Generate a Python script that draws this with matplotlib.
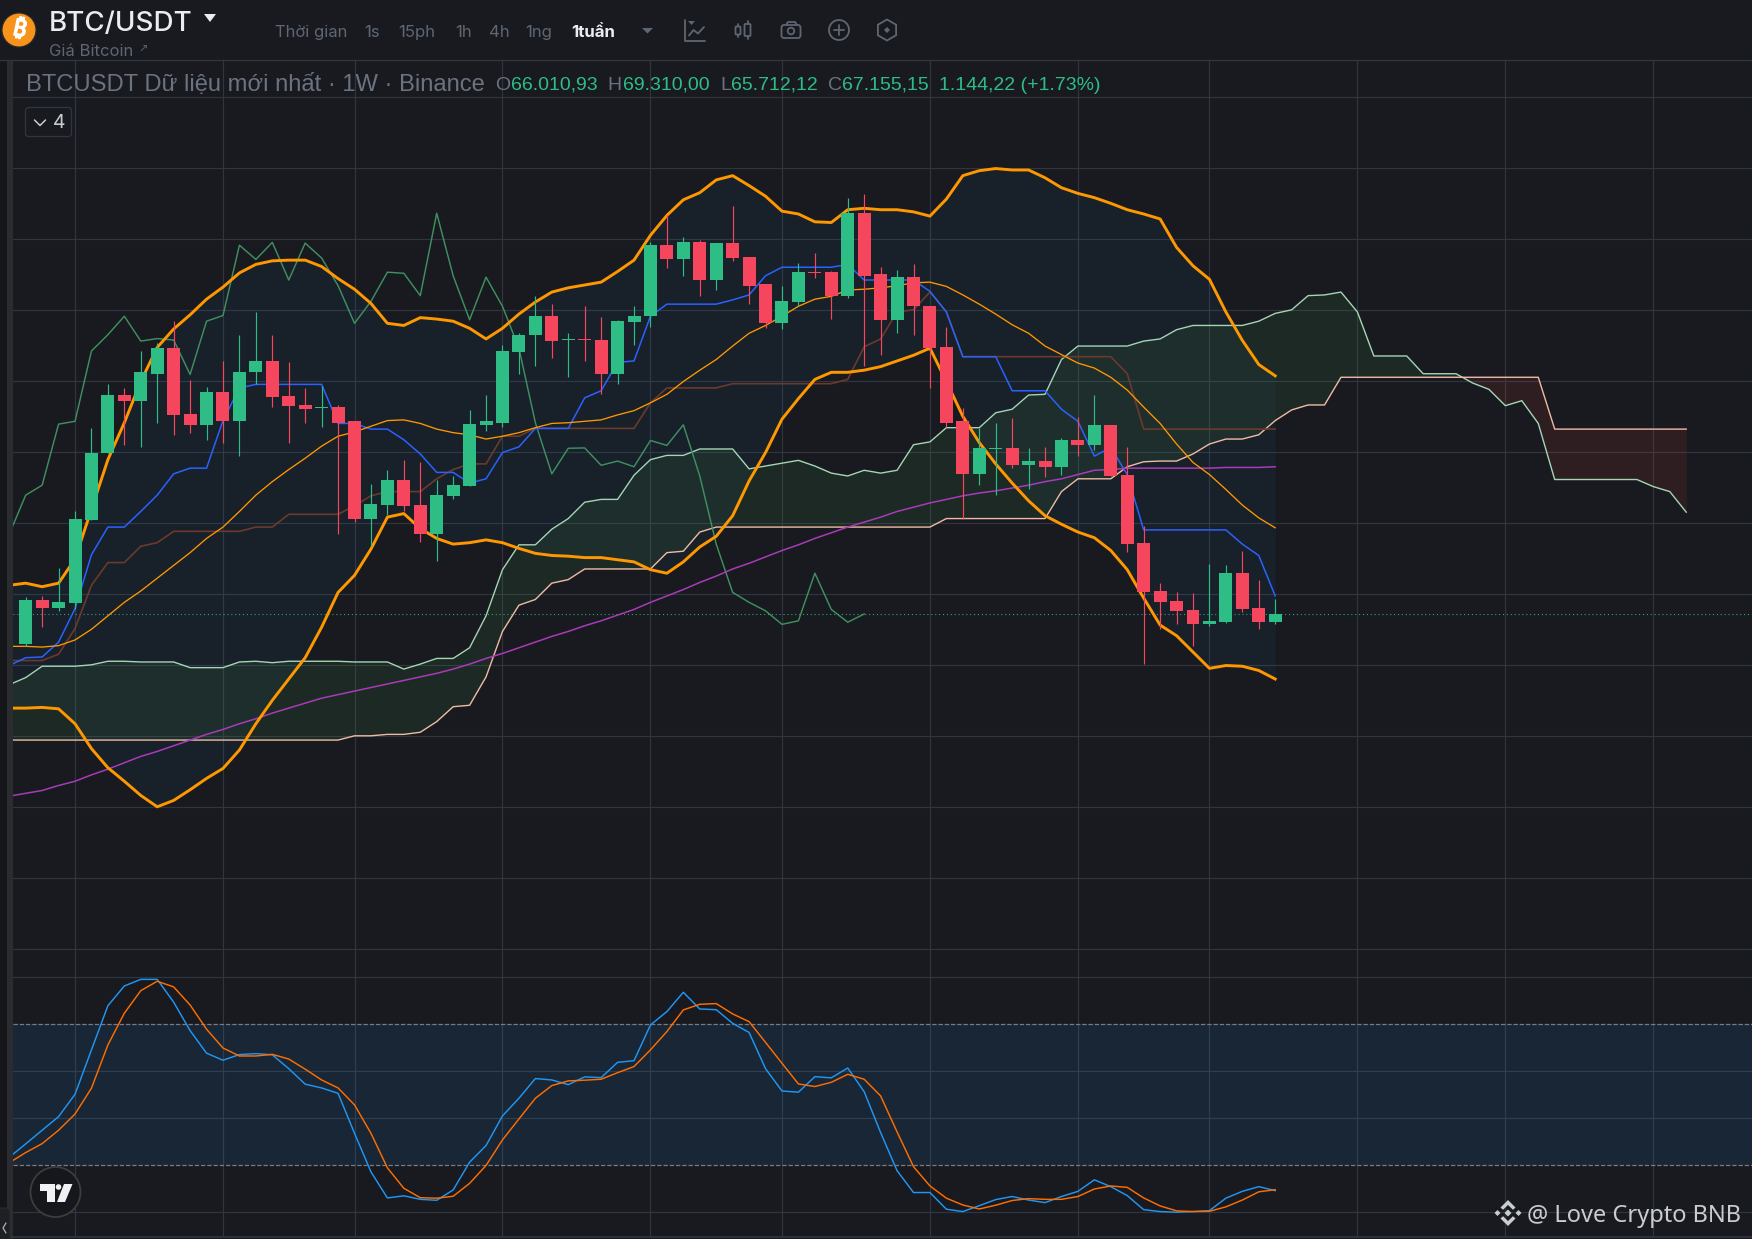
"""BTC/USDT weekly chart: candles, Bollinger, Ichimoku, MA200 and Stoch RSI."""

import numpy as np
import matplotlib
matplotlib.use("Agg")
import matplotlib.pyplot as plt
import matplotlib.patheffects as pe
from matplotlib.patches import Circle, FancyBboxPatch, Polygon, RegularPolygon

# Prices are in thousands of USDT
opens = [63.0, 69.1, 68.0, 68.7, 80.4, 89.8, 98.0, 97.1, 101.0, 104.6, 95.3, 93.8, 98.4, 94.4, 101.2, 102.8, 97.8, 96.6, 96.15, 96.3,
         94.3, 80.6, 82.5, 86.1, 82.5, 78.4, 83.8, 85.2, 93.8, 94.1, 104.0, 106.4, 109.1, 105.8, 105.9, 105.7, 100.9, 108.3, 109.1, 119.1,
         117.1, 119.5, 114.2, 119.4, 117.4, 113.6, 108.1, 111.1, 115.3, 115.3, 112.0, 123.6, 115.0, 108.6, 114.6, 110.6, 104.7, 94.3, 86.9, 90.4,
         90.5, 88.1, 88.7, 87.9, 91.6, 90.9, 93.8, 86.7, 77.1, 70.4, 69.0, 67.7, 65.7, 66.0, 72.9, 68.0, 66.01]
highs = [69.5, 69.7, 73.7, 81.6, 93.4, 99.6, 99.0, 104.2, 105.3, 108.4, 100.1, 99.2, 102.8, 106.5, 109.7, 106.5, 102.6, 99.0, 99.3, 96.6,
         94.3, 85.5, 87.5, 88.8, 88.5, 86.1, 86.6, 95.9, 98.0, 105.0, 106.7, 112.0, 110.8, 106.8, 110.6, 109.0, 108.5, 110.6, 119.6, 123.3,
         120.3, 119.8, 119.4, 124.6, 117.5, 113.6, 113.4, 116.6, 118.0, 115.5, 125.7, 126.3, 116.0, 115.6, 116.4, 110.6, 107.6, 96.2, 93.4, 94.1,
         94.8, 90.5, 90.7, 92.0, 94.9, 98.0, 93.8, 90.7, 79.5, 71.5, 70.2, 70.1, 74.2, 74.0, 76.1, 72.0, 69.31]
lows = [62.7, 65.3, 67.6, 67.9, 80.4, 89.8, 90.9, 90.7, 94.1, 92.4, 92.6, 91.6, 91.3, 89.4, 99.6, 96.3, 91.3, 94.1, 93.5, 78.4,
        80.1, 76.7, 81.1, 81.6, 77.3, 74.6, 83.3, 85.2, 92.9, 93.5, 100.9, 102.1, 103.2, 100.5, 102.8, 98.2, 99.6, 105.1, 107.6, 115.9,
        114.7, 112.0, 112.8, 116.9, 110.8, 107.4, 107.3, 110.6, 114.5, 108.7, 111.6, 102.1, 103.6, 106.7, 106.4, 99.0, 93.5, 80.6, 85.3, 83.9,
        87.7, 84.7, 86.5, 86.8, 89.4, 90.2, 86.6, 75.9, 60.1, 65.1, 65.7, 62.6, 65.4, 65.9, 67.4, 65.1, 65.71]
closes = [69.1, 68.0, 68.8, 80.5, 89.9, 98.0, 97.1, 101.2, 104.6, 95.2, 93.8, 98.4, 94.4, 101.3, 102.8, 97.7, 96.4, 96.0, 96.3, 94.1,
          80.6, 82.6, 86.1, 82.4, 78.4, 83.9, 85.3, 93.9, 94.3, 104.2, 106.5, 109.1, 105.6, 105.95, 105.75, 100.9, 108.4, 109.2, 119.1, 117.1,
          119.5, 114.2, 119.4, 117.3, 113.4, 108.1, 111.2, 115.3, 115.15, 112.0, 123.6, 114.8, 108.6, 114.6, 110.5, 104.6, 94.1, 86.9, 90.5, 90.55,
          88.1, 88.7, 87.9, 91.6, 90.9, 93.8, 86.6, 77.0, 70.2, 68.8, 67.6, 65.7, 66.2, 72.9, 67.8, 66.0, 67.16]
last_close = 67.155

# All indicator series start one week before the first complete candle
bb_upper = [71.2, 71.5, 71.0, 71.5, 74.9, 81.9, 88.9, 94.1, 99.9, 104.7, 107.3, 109.3, 111.5, 113.2, 115.2, 116.4, 116.9, 117.0, 117.0, 116.1,
            114.4, 112.9, 110.9, 108.1, 107.8, 108.9, 108.7, 108.4, 107.4, 105.9, 107.4, 109.4, 111.1, 112.5, 113.1, 113.5, 113.9, 115.4, 117.0, 120.5,
            123.3, 125.5, 126.5, 128.3, 128.9, 127.5, 126.0, 123.9, 123.5, 122.4, 122.3, 124.1, 124.3, 124.1, 124.1, 123.8, 123.2, 125.6, 128.9, 129.6,
            129.9, 129.7, 129.7, 128.6, 127.2, 126.4, 125.8, 125.0, 124.1, 123.5, 122.8, 118.8, 116.2, 114.3, 109.7, 105.7, 102.3, 100.7]
bb_lower = [53.9, 53.9, 54.0, 53.8, 51.7, 48.2, 45.5, 43.6, 41.6, 40.0, 40.9, 42.4, 44.0, 45.4, 48.0, 51.7, 55.0, 58.0, 61.0, 65.3,
            70.2, 72.6, 76.3, 80.8, 81.3, 79.2, 77.8, 77.0, 77.2, 77.6, 77.2, 76.4, 75.7, 75.4, 75.3, 75.1, 75.1, 74.8, 74.5, 73.4,
            72.9, 74.5, 76.6, 78.1, 81.0, 85.9, 89.9, 94.6, 97.5, 100.2, 101.2, 101.2, 101.5, 102.0, 102.8, 103.6, 104.6, 99.9, 95.0, 91.3,
            88.3, 85.6, 83.1, 81.0, 79.8, 78.7, 77.9, 76.1, 73.4, 69.4, 65.6, 64.1, 61.8, 59.5, 59.9, 59.8, 59.2, 58.0]
bb_basis = [62.6, 62.6, 62.5, 62.7, 63.5, 65.0, 66.9, 68.8, 70.4, 72.2, 74.0, 75.8, 77.8, 79.4, 81.6, 83.9, 85.8, 87.5, 89.1, 90.8,
            92.2, 92.8, 93.6, 94.4, 94.5, 94.0, 93.2, 92.7, 92.4, 91.8, 92.2, 92.7, 93.4, 94.0, 94.1, 94.3, 94.5, 95.2, 95.8, 96.9,
            98.1, 99.9, 101.5, 103.0, 104.9, 106.7, 107.8, 109.1, 110.5, 111.5, 111.9, 112.8, 112.9, 113.1, 113.4, 113.8, 113.9, 113.3, 112.1, 110.8,
            109.4, 107.9, 106.7, 104.9, 103.7, 102.5, 101.8, 100.5, 98.7, 96.3, 94.0, 91.1, 88.5, 86.8, 84.7, 82.5, 80.7, 79.3]
tenkan = [59.9, 61.0, 61.1, 63.2, 67.9, 75.5, 79.4, 79.4, 81.6, 83.9, 86.9, 87.7, 87.7, 94.4, 99.0, 99.5, 99.5, 99.5, 99.5, 99.5,
          94.0, 94.0, 93.2, 93.2, 91.7, 89.7, 87.1, 87.1, 85.6, 86.2, 89.9, 90.7, 93.3, 93.3, 93.3, 97.6, 98.6, 102.6, 102.8, 109.1,
          110.8, 110.8, 110.8, 110.8, 111.4, 112.1, 114.8, 116.0, 116.0, 116.0, 116.0, 116.4, 114.2, 114.2, 114.2, 114.2, 112.6, 109.7, 103.4, 103.4,
          103.4, 98.6, 98.6, 98.6, 96.0, 94.3, 89.4, 90.6, 86.8, 79.0, 79.0, 79.0, 79.0, 79.0, 79.0, 77.0, 75.4, 69.7]
kijun = [60.6, 60.6, 60.6, 61.5, 65.1, 71.2, 74.4, 74.4, 76.7, 77.2, 78.8, 78.8, 78.8, 78.8, 78.8, 79.4, 79.4, 81.2, 81.2, 81.2,
         81.2, 82.4, 83.8, 84.4, 84.4, 84.4, 86.2, 87.5, 88.3, 88.3, 92.2, 92.2, 93.3, 93.3, 93.3, 93.3, 93.3, 93.3, 93.3, 96.9,
         99.0, 99.0, 99.0, 99.0, 99.6, 99.6, 99.6, 99.6, 99.6, 99.6, 99.6, 100.2, 104.8, 105.9, 109.7, 110.0, 112.5, 109.7, 103.4, 103.4,
         103.4, 103.4, 103.4, 103.4, 103.4, 103.4, 103.4, 103.4, 101.0, 93.2, 93.2, 93.2, 93.2, 93.2, 93.2, 93.2, 93.2, 93.2]
lagging = [78.4, 83.9, 85.3, 93.9, 94.3, 104.2, 106.5, 109.1, 105.6, 105.95, 105.75, 100.9, 108.4, 109.2, 119.1, 117.1, 119.5, 114.2, 119.4, 117.3,
           113.4, 108.1, 111.2, 115.3, 115.15, 112.0, 123.6, 114.8, 108.6, 114.6, 110.5, 104.6, 94.1, 86.9, 90.5, 90.55, 88.1, 88.7, 87.9, 91.6,
           90.9, 93.8, 86.6, 77.0, 70.2, 68.8, 67.6, 65.7, 66.2, 72.9, 67.8, 66.0, 67.16]
senkou_a = [57.2, 58.2, 59.8, 59.8, 59.8, 60.0, 60.5, 60.5, 60.4, 60.4, 60.4, 59.6, 59.6, 59.6, 60.4, 60.5, 60.3, 60.5, 60.5, 60.5,
            60.5, 60.4, 60.4, 60.4, 59.4, 60.1, 60.9, 60.9, 62.4, 66.9, 73.4, 76.9, 76.9, 79.1, 80.6, 82.9, 83.3, 83.3, 86.7, 88.9,
            89.5, 89.5, 90.4, 90.4, 90.4, 87.6, 88.0, 88.4, 88.8, 88.0, 87.0, 86.6, 87.4, 87.0, 87.4, 91.0, 91.4, 93.4, 93.4, 93.4,
            95.5, 96.0, 98.0, 98.1, 103.0, 104.9, 104.9, 104.9, 104.9, 105.6, 105.9, 107.2, 107.8, 107.8, 107.8, 107.8, 108.4, 109.5, 110.0, 112.0,
            112.1, 112.5, 109.7, 103.5, 103.5, 103.5, 101.0, 101.0, 101.0, 99.7, 98.8, 96.5, 97.2, 94.0, 86.1, 86.1, 86.1, 86.1, 86.1, 86.1,
            85.1, 84.4, 81.5]
senkou_b = [49.4, 49.4, 49.4, 49.4, 49.4, 49.4, 49.4, 49.4, 49.4, 49.4, 49.4, 49.4, 49.4, 49.4, 49.4, 49.4, 49.4, 49.4, 49.4, 49.4,
            49.4, 50.0, 50.0, 50.2, 50.2, 50.5, 52.0, 54.1, 54.3, 58.3, 64.7, 68.4, 69.2, 71.5, 72.0, 73.5, 73.5, 73.5, 73.5, 73.5,
            75.8, 76.0, 78.7, 79.4, 79.4, 79.4, 79.4, 79.4, 79.4, 79.4, 79.4, 79.4, 79.4, 79.4, 79.4, 79.4, 79.4, 80.6, 80.6, 80.6,
            80.6, 80.6, 80.6, 80.6, 84.4, 86.2, 86.2, 86.2, 87.9, 88.6, 88.7, 88.7, 89.7, 91.1, 91.8, 91.8, 92.4, 94.4, 95.9, 96.6,
            96.6, 100.5, 100.5, 100.5, 100.5, 100.5, 100.5, 100.5, 100.5, 100.5, 100.5, 100.5, 100.5, 100.5, 93.2, 93.2, 93.2, 93.2, 93.2, 93.2,
            93.2, 93.2, 93.2]
ma200 = [41.5, 41.9, 42.3, 43.0, 43.6, 44.5, 45.3, 46.2, 47.1, 47.8, 48.6, 49.4, 50.2, 50.9, 51.7, 52.4, 53.2, 53.9, 54.6, 55.3,
         55.8, 56.3, 56.8, 57.3, 57.8, 58.3, 58.8, 59.4, 60.1, 60.9, 61.6, 62.4, 63.2, 64.0, 64.7, 65.5, 66.2, 67.0, 67.8, 68.8,
         69.7, 70.6, 71.6, 72.5, 73.5, 74.3, 75.2, 76.1, 76.9, 77.8, 78.6, 79.4, 80.1, 80.8, 81.6, 82.2, 82.8, 83.3, 83.8, 84.2,
         84.5, 84.9, 85.3, 85.8, 86.2, 86.8, 87.4, 87.5, 87.7, 87.7, 87.7, 87.7, 87.7, 87.7, 87.8, 87.8, 87.8, 87.9]
stoch_k = [23.4, 29.1, 34.9, 40.7, 50.2, 69.1, 87.9, 96.3, 99.1, 99.1, 89.4, 77.3, 67.7, 64.7, 67.1, 67.5, 67.0, 61.1, 54.5, 52.9,
           50.6, 33.6, 17.2, 6.1, 7.0, 5.5, 5.1, 9.5, 21.3, 28.4, 41.0, 48.5, 56.9, 56.3, 54.3, 57.6, 57.3, 63.8, 64.5, 79.7,
           85.4, 93.6, 86.5, 86.2, 80.4, 76.5, 61.1, 51.6, 51.1, 57.7, 57.2, 61.4, 51.3, 33.9, 17.7, 8.4, 8.4, 1.3, 0.3, 2.8,
           5.4, 6.7, 5.2, 4.1, 6.7, 8.9, 13.8, 10.9, 7.1, 1.1, 0.3, 0.0, 0.3, 0.7, 6.0, 8.9, 10.9, 9.2]
stoch_d = [21.1, 25.4, 29.2, 34.9, 41.8, 52.8, 71.2, 84.7, 94.3, 98.3, 95.9, 88.2, 77.9, 69.9, 66.5, 66.5, 67.2, 65.2, 60.9, 56.3,
           52.9, 45.7, 33.6, 18.9, 10.2, 6.2, 6.0, 6.8, 12.3, 19.9, 30.8, 39.7, 48.5, 53.9, 55.9, 56.2, 56.6, 59.4, 62.0, 69.1,
           76.9, 86.1, 88.5, 88.8, 84.4, 81.1, 72.3, 63.4, 54.6, 53.5, 55.3, 58.7, 56.6, 49.5, 34.2, 19.4, 11.2, 6.0, 3.1, 1.4,
           3.0, 5.0, 5.8, 5.5, 5.5, 6.7, 9.9, 11.2, 10.6, 6.1, 2.7, 0.6, 0.3, 0.4, 2.3, 5.2, 8.7, 9.6]

month_ticks = [3, 12, 20, 29, 38, 46, 55, 64, 72, 81, 90, 99]
price_levels = np.arange(20, 150, 10)
stoch_levels = [0, 40, 60, 100]
stoch_bands = [20, 80]

BG = "#181a20"
GRID = "#2f3640"
GREEN = "#2ebd85"
RED = "#f6465d"
MUTED = "#5e6673"
UP_FONT = "Inter"
LEGEND_FONT = "Liberation Sans"

W, H = 1752, 1239


def add_axes_px(fig, left, top, right, bottom):
    ax = fig.add_axes([left / W, 1 - bottom / H, (right - left) / W, (bottom - top) / H])
    ax.set_facecolor(BG)
    for spine in ax.spines.values():
        spine.set_visible(False)
    ax.tick_params(length=0, labelbottom=False, labelleft=False)
    return ax


def draw_grid(ax, levels):
    ax.set_xticks(month_ticks)
    ax.set_yticks(levels)
    ax.grid(True, color=GRID, linewidth=0.85, zorder=0)
    ax.set_axisbelow(True)


def draw_candles(ax):
    x = np.arange(len(closes))
    o, c = np.array(opens), np.array(closes)
    colors = [GREEN if cl >= op else RED for op, cl in zip(o, c)]
    ax.vlines(x, lows, highs, colors=colors, linewidth=0.85, zorder=6)
    ax.bar(x, np.abs(c - o), bottom=np.minimum(o, c), width=0.79, color=colors, linewidth=0, zorder=7)


def series_x(values):
    return np.arange(len(values)) - 1


def draw_main(ax):
    draw_grid(ax, price_levels)
    ax.fill_between(series_x(bb_upper), bb_lower, bb_upper, color="#2196f3", alpha=0.05, linewidth=0, zorder=1)
    xs = series_x(senkou_a)
    a, b = np.array(senkou_a), np.array(senkou_b)
    ax.fill_between(xs, a, b, where=a >= b, interpolate=True, color="#4caf50", alpha=0.10, linewidth=0, zorder=1)
    ax.fill_between(xs, a, b, where=a <= b, interpolate=True, color="#f44336", alpha=0.10, linewidth=0, zorder=1)
    ax.axhline(last_close, color=GREEN, linewidth=0.8, linestyle=(0, (1, 2.5)), alpha=0.85, zorder=2)

    ax.plot(series_x(senkou_a), senkou_a, color="#a5d6b4", linewidth=1.0, zorder=3)
    ax.plot(series_x(senkou_b), senkou_b, color="#efbba4", linewidth=1.0, zorder=3)
    ax.plot(series_x(lagging), lagging, color="#3f8f60", linewidth=1.05, zorder=3)
    ax.plot(series_x(kijun), kijun, color="#6b3a2a", linewidth=1.2, zorder=3)
    ax.plot(series_x(tenkan), tenkan, color="#2962ff", linewidth=1.1, zorder=3)
    ax.plot(series_x(ma200), ma200, color="#a83bb8", linewidth=1.1, zorder=3)
    ax.plot(series_x(bb_basis), bb_basis, color="#ff9800", linewidth=0.95, zorder=4)
    ax.plot(series_x(bb_upper), bb_upper, color="#ff9800", linewidth=2.1, zorder=5)
    ax.plot(series_x(bb_lower), bb_lower, color="#ff9800", linewidth=2.1, zorder=5)
    draw_candles(ax)


def draw_stoch(ax):
    draw_grid(ax, stoch_levels)
    ax.axhspan(stoch_bands[0], stoch_bands[1], color="#2196f3", alpha=0.10, linewidth=0, zorder=1)
    for level in stoch_bands:
        ax.axhline(level, color="#787b86", linewidth=0.9, linestyle=(0, (3.5, 1.5)), zorder=2)
    ax.plot(series_x(stoch_k), stoch_k, color="#2196f3", linewidth=1.05, zorder=3)
    ax.plot(series_x(stoch_d), stoch_d, color="#ff6d00", linewidth=1.05, zorder=4)


def polyline(ui, pts, color=MUTED, lw=1.3, zorder=5):
    xs, ys = zip(*pts)
    ui.plot(xs, ys, color=color, linewidth=lw, solid_capstyle="round", solid_joinstyle="round", zorder=zorder)


def draw_toolbar_icons(ui):
    # indicator chart icon
    polyline(ui, [(685, 20), (685, 40.5), (705, 40.5)])
    polyline(ui, [(689, 35.5), (693.5, 30), (698, 33.5), (704, 27)])
    ui.add_patch(Polygon([(688, 21), (695, 21), (691.5, 25)], color=MUTED, linewidth=0, zorder=5))
    # candle style icon
    polyline(ui, [(738, 23.5), (738, 37)], zorder=4)
    ui.add_patch(FancyBboxPatch((735.5, 26.5), 5, 8, boxstyle="round,pad=0,rounding_size=1", fc=BG, ec=MUTED, lw=1.3, zorder=5))
    polyline(ui, [(747.5, 20.5), (747.5, 39)], zorder=4)
    ui.add_patch(FancyBboxPatch((744.5, 24), 6, 12, boxstyle="round,pad=0,rounding_size=1", fc=BG, ec=MUTED, lw=1.3, zorder=5))
    # camera
    ui.add_patch(Polygon([(786, 25), (788, 22), (795, 22), (797, 25)], closed=False, fill=False, ec=MUTED, lw=1.3, zorder=5))
    ui.add_patch(FancyBboxPatch((781.5, 25), 19, 13, boxstyle="round,pad=0,rounding_size=2.5", fc="none", ec=MUTED, lw=1.3, zorder=5))
    ui.add_patch(Circle((791, 31), 3.3, fc="none", ec=MUTED, lw=1.3, zorder=5))
    # plus in a circle
    ui.add_patch(Circle((839, 30), 10, fc="none", ec=MUTED, lw=1.3, zorder=5))
    polyline(ui, [(834, 30), (844, 30)])
    polyline(ui, [(839, 25), (839, 35)])
    # hexagon with a dot
    ui.add_patch(RegularPolygon((887, 30), 6, radius=10.5, fc="none", ec=MUTED, lw=1.3, zorder=5))
    ui.add_patch(RegularPolygon((887, 30), 4, radius=3, fc=MUTED, ec="none", zorder=5))


def draw_tv_logo(ui):
    ui.add_patch(Circle((55.5, 1192), 25, fc="#15171c", ec="#3f3c3c", lw=1.3, zorder=8))
    ui.add_patch(Polygon([(40, 1184), (55, 1184), (55, 1202), (47, 1202), (47, 1191), (40, 1191)], fc="#f0f1f2", ec="none", zorder=9))
    ui.add_patch(Circle((58.5, 1187), 2.8, fc="#f0f1f2", ec="none", zorder=9))
    ui.add_patch(Polygon([(64, 1184), (72.5, 1184), (65, 1202), (57, 1202)], fc="#f0f1f2", ec="none", zorder=9))


def draw_binance_logo(ui, cx, cy):
    color = "#c9cdcd"
    for dx in (-10.5, 10.5):
        ui.add_patch(Polygon([(cx + dx - 3, cy), (cx + dx, cy - 3), (cx + dx + 3, cy), (cx + dx, cy + 3)], fc=color, ec="none", zorder=9))
    ui.add_patch(Polygon([(cx - 3.5, cy), (cx, cy - 3.5), (cx + 3.5, cy), (cx, cy + 3.5)], fc=color, ec="none", zorder=9))
    for sign in (-1, 1):
        ui.add_patch(Polygon([
            (cx, cy + sign * 13), (cx + 7.5, cy + sign * 5.5), (cx + 5, cy + sign * 3.2), (cx, cy + sign * 8),
            (cx - 5, cy + sign * 3.2), (cx - 7.5, cy + sign * 5.5)], fc=color, ec="none", zorder=9))


def draw_ui(fig):
    ui = fig.add_axes([0, 0, 1, 1], facecolor="none")
    ui.set_xlim(0, W)
    ui.set_ylim(H, 0)
    ui.axis("off")

    # header bar and left strip
    ui.fill_between([0, W], 0, 59, color=BG, linewidth=0, zorder=1)
    ui.plot([0, W], [59.5, 59.5], color="#2f3640", linewidth=0.9, zorder=2)
    ui.fill_between([0, 7], 60, H, color="#14161a", linewidth=0, zorder=1)
    ui.fill_between([7, 13], 60, H, color="#2a2c30", linewidth=0, zorder=1)
    ui.plot([0, W], [1236.5, 1236.5], color="#2f3640", linewidth=1.2, zorder=2)

    # bitcoin badge
    ui.add_patch(Circle((19, 30), 17, fc="#f7931a", ec="#2a2c30", lw=0.8, zorder=3))
    ui.text(19.5, 30, "\u20bf", color="white", fontsize=17, fontweight="bold", rotation=-12, ha="center", va="center",
            family=["Noto Sans", "DejaVu Sans"], zorder=4,
            path_effects=[pe.withStroke(linewidth=1.0, foreground="white")])

    ui.text(49, 21, "BTC/USDT", color="#eaecef", fontsize=20.0, fontweight="medium", family=UP_FONT, va="center_baseline", zorder=4)
    ui.add_patch(Polygon([(204, 14), (216, 14), (210, 22)], fc="#eaecef", ec="none", zorder=4))
    ui.text(49, 50, "Giá Bitcoin", color=MUTED, fontsize=12.0, family=UP_FONT, va="center_baseline", zorder=4)
    ui.text(143, 50, "\u2197", color=MUTED, fontsize=8, family="DejaVu Sans", ha="center", va="center", zorder=4)

    for label, left in [("Thời gian", 275), ("1s", 364), ("15ph", 398), ("1h", 455), ("4h", 489), ("1ng", 525)]:
        ui.text(left, 31, label, color=MUTED, fontsize=12.0, family=UP_FONT, va="center_baseline", zorder=4)
    ui.text(571, 31, "1tuần", color="#eaecef", fontsize=12.2, fontweight="bold", family=UP_FONT, va="center_baseline", zorder=4)
    ui.add_patch(Polygon([(642, 28), (653, 28), (647.5, 33.5)], fc=MUTED, ec="none", zorder=4))
    draw_toolbar_icons(ui)

    # legend row
    ui.text(26, 83, "BTCUSDT Dữ liệu mới nhất · 1W · Binance", color="#6b7280", fontsize=17.08, family=LEGEND_FONT, va="center_baseline", zorder=4)
    for letter, lx, value, vx in [("O", 495, "66.010,93", 511), ("H", 607, "69.310,00", 623),
                                  ("L", 720, "65.712,12", 731), ("C", 828, "67.155,15", 842)]:
        ui.text(lx, 83, letter, color="#6b7280", fontsize=14.0, family=LEGEND_FONT, va="center_baseline", zorder=4)
        ui.text(vx, 83, value, color=GREEN, fontsize=14.0, family=LEGEND_FONT, va="center_baseline", zorder=4)
    ui.text(939, 83, "1.144,22 (+1.73%)", color=GREEN, fontsize=14.0, family=LEGEND_FONT, va="center_baseline", zorder=4)

    # collapse button
    ui.add_patch(FancyBboxPatch((25.5, 107.5), 46, 29, boxstyle="round,pad=0,rounding_size=3", fc=BG, ec="#2f3640", lw=0.9, zorder=3))
    polyline(ui, [(34.5, 120), (40, 125.5), (45.5, 120)], color="#c7ccd4", lw=1.1)
    ui.text(59, 123, "4", color="#c7ccd4", fontsize=14, family=UP_FONT, ha="center", va="center", zorder=5)

    # bottom-left tab, TradingView badge, watermark
    ui.add_patch(FancyBboxPatch((-6, 1208), 16, 40, boxstyle="round,pad=0,rounding_size=4", fc="#1e2025", ec="#2a2c30", lw=0.8, zorder=3))
    polyline(ui, [(6, 1223), (3, 1228), (6, 1233)], color="#aeb3ba", lw=0.9)
    draw_tv_logo(ui)
    draw_binance_logo(ui, 1508, 1213)
    ui.text(1527, 1213, "@ Love Crypto BNB", color="#c9cdcd", fontsize=17.0, family="Noto Sans", va="center_baseline", zorder=9)


if __name__ == "__main__":
    fig = plt.figure(figsize=(W / 100, H / 100), dpi=100, facecolor=BG)

    ax_main = add_axes_px(fig, 13, 60, W, 950)
    draw_main(ax_main)
    ax_main.set_xlim(-0.772, 105.0)
    ax_main.set_ylim(19.83, 145.19)

    ax_stoch = add_axes_px(fig, 13, 950, W, 1236)
    draw_stoch(ax_stoch)
    ax_stoch.set_xlim(-0.772, 105.0)
    ax_stoch.set_ylim(-10.1, 111.6)

    draw_ui(fig)
    fig.savefig("out.png", dpi=100, facecolor=BG)
    plt.close(fig)
